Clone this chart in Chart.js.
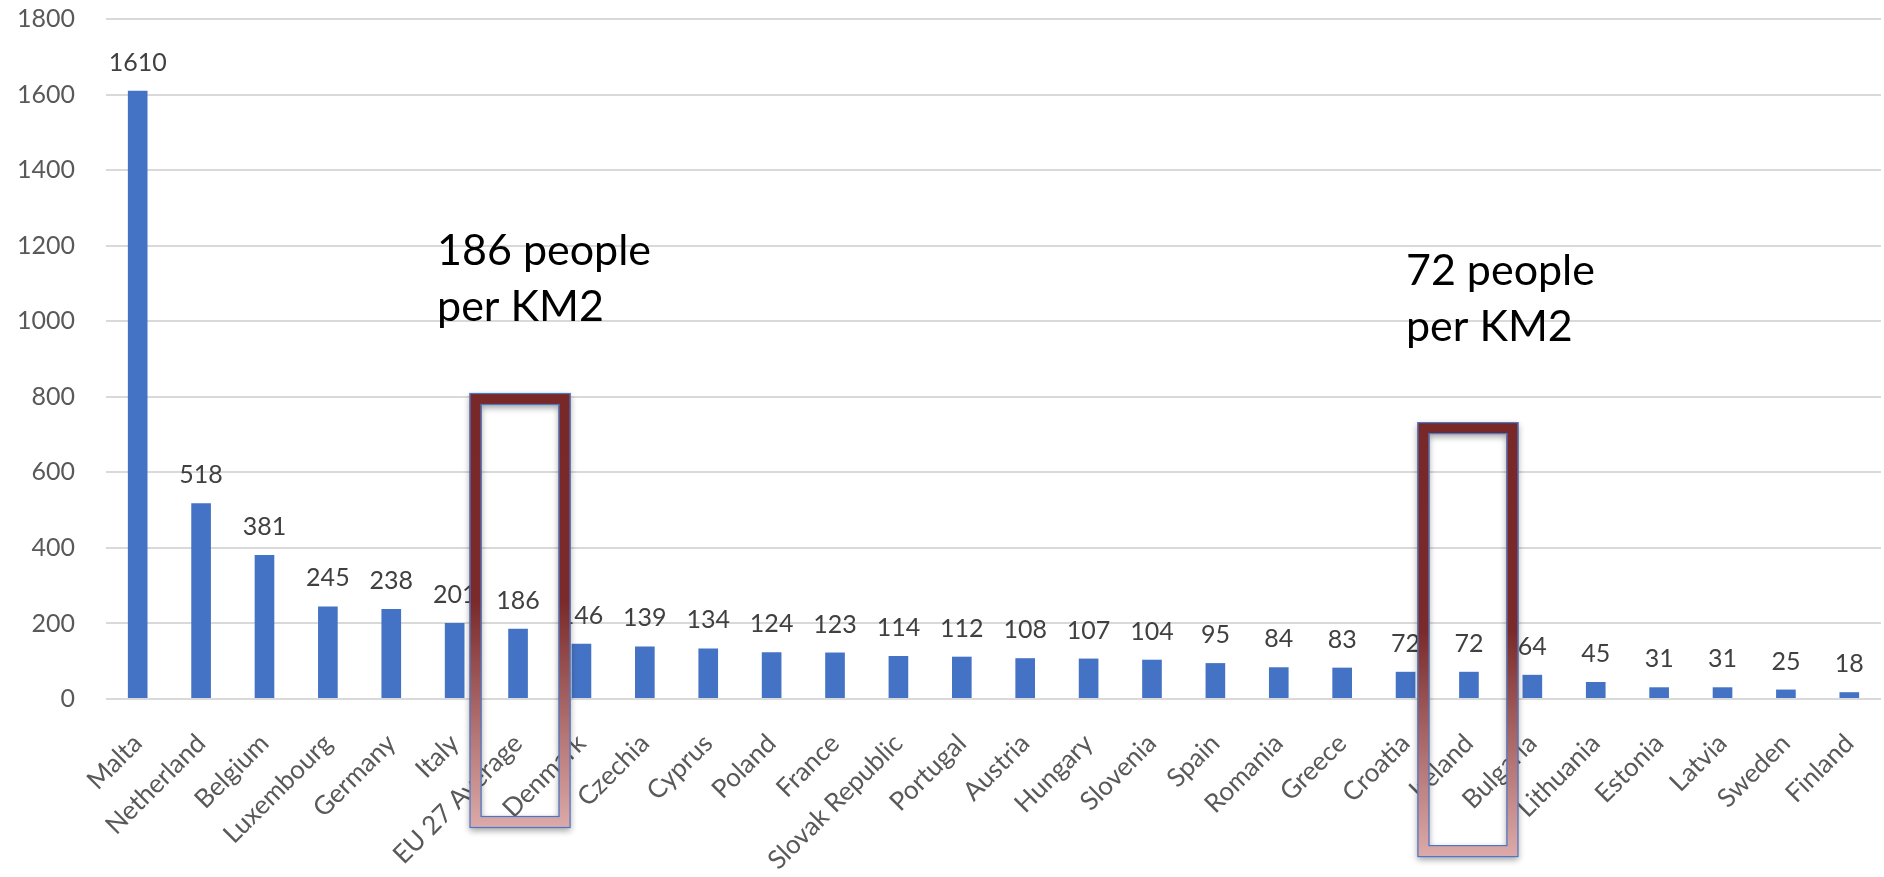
<!DOCTYPE html>
<html>
<head>
<meta charset="utf-8">
<script src="https://cdn.jsdelivr.net/npm/chart.js@4"></script>
<style>
  html, body { margin: 0; padding: 0; background: #ffffff; }
  #wrap { width: 1884px; height: 877px; }
</style>
</head>
<body>
<div id="wrap"><canvas id="c" width="1884" height="877"></canvas></div>
<script>
// ---- data ----
const countries = ['Malta', 'Netherland', 'Belgium', 'Luxembourg', 'Germany', 'Italy', 'EU 27 Average',
  'Denmark', 'Czechia', 'Cyprus', 'Poland', 'France', 'Slovak Republic', 'Portugal', 'Austria',
  'Hungary', 'Slovenia', 'Spain', 'Romania', 'Greece', 'Croatia', 'Ireland', 'Bulgaria',
  'Lithuania', 'Estonia', 'Latvia', 'Sweden', 'Finland'];
const density = [1610, 518, 381, 245, 238, 201, 186, 146, 139, 134, 124, 123, 114, 112, 108,
  107, 104, 95, 84, 83, 72, 72, 64, 45, 31, 31, 25, 18];
const yTicks = [0, 200, 400, 600, 800, 1000, 1200, 1400, 1600, 1800];

// highlighted categories and their notes
const highlightCategories = ['EU 27 Average', 'Ireland'];
const highlightTopValues = [810, 733];
const noteLines = [['186 people', 'per KM2'], ['72 people', 'per KM2']];
const noteBaselineValues = [1149, 1096];

// ---- styles ----
const FONT = 'Lato, "Open Sans", sans-serif';
const boxStyle = { halfWidth: 50.5, height: 435, thickness: 12, xShift: [2, -1] };
const noteStyle = { xOffset: [-81, -63], lineGap: 56, size: 43 };

const valueLabels = {
  id: 'valueLabels',
  afterDatasetsDraw(chart) {
    const ctx = chart.ctx;
    const meta = chart.getDatasetMeta(0);
    ctx.save();
    ctx.font = '25px ' + FONT;
    ctx.fillStyle = '#404040';
    ctx.textAlign = 'center';
    ctx.textBaseline = 'alphabetic';
    meta.data.forEach((bar, i) => {
      ctx.fillText(String(density[i]), bar.x, bar.y - 20);
    });
    ctx.restore();
  }
};

const highlights = {
  id: 'highlights',
  afterDraw(chart) {
    const ctx = chart.ctx;
    const xs = chart.scales.x, ys = chart.scales.y;
    highlightCategories.forEach((cat, k) => {
      const idx = countries.indexOf(cat);
      const cx = xs.getPixelForValue(idx) + boxStyle.xShift[k];
      const top = ys.getPixelForValue(highlightTopValues[k]);
      const left = cx - boxStyle.halfWidth;
      const w = boxStyle.halfWidth * 2;
      const h = boxStyle.height;
      const t = boxStyle.thickness;
      const g = ctx.createLinearGradient(0, top, 0, top + h);
      g.addColorStop(0, '#782828');
      g.addColorStop(0.48, '#7a2a2a');
      g.addColorStop(1, '#dcaaaa');
      ctx.save();
      ctx.shadowColor = 'rgba(0,0,0,0.35)';
      ctx.shadowBlur = 6;
      ctx.shadowOffsetY = 3;
      ctx.beginPath();
      ctx.rect(left, top, w, h);
      ctx.rect(left + w - t, top + t, -(w - 2 * t), h - 2 * t);
      ctx.fillStyle = g;
      ctx.fill('evenodd');
      ctx.restore();
      ctx.save();
      ctx.strokeStyle = '#4a78c8';
      ctx.lineWidth = 1.2;
      ctx.strokeRect(left + 0.5, top + 0.5, w - 1, h - 1);
      ctx.strokeRect(left + t - 0.5, top + t - 0.5, w - 2 * t + 1, h - 2 * t + 1);
      ctx.restore();
      ctx.save();
      ctx.font = noteStyle.size + 'px ' + FONT;
      ctx.fillStyle = '#000000';
      ctx.textAlign = 'left';
      ctx.textBaseline = 'alphabetic';
      const nx = xs.getPixelForValue(idx) + noteStyle.xOffset[k];
      const ny = ys.getPixelForValue(noteBaselineValues[k]);
      noteLines[k].forEach((line, j) => {
        ctx.fillText(line, nx, ny + j * noteStyle.lineGap);
      });
      ctx.restore();
    });
  }
};

function draw() {
  new Chart(document.getElementById('c'), {
    type: 'bar',
    data: {
      labels: countries,
      datasets: [{
        data: density,
        backgroundColor: '#4472C4',
        borderWidth: 0,
        barPercentage: 0.31,
        categoryPercentage: 1.0
      }]
    },
    options: {
      responsive: false,
      animation: false,
      devicePixelRatio: 1,
      layout: { padding: { top: 19, right: 3, left: 0, bottom: 0 } },
      plugins: { legend: { display: false }, tooltip: { enabled: false } },
      scales: {
        x: {
          grid: { display: false, drawTicks: false },
          border: { display: false },
          ticks: {
            autoSkip: false,
            maxRotation: 45,
            minRotation: 45,
            padding: 29,
            labelOffset: 0,
            color: '#595959',
            font: { family: FONT, size: 26 }
          },
          afterFit(s) { s.height = 178; s.paddingLeft = 0; s.paddingRight = 0; }
        },
        y: {
          min: 0,
          max: 1800,
          afterBuildTicks(s) { s.ticks = yTicks.map(v => ({ value: v })); },
          grid: { color: '#d9d9d9', lineWidth: 2, drawTicks: false },
          border: { display: false },
          ticks: {
            padding: 31,
            color: '#595959',
            font: { family: FONT, size: 25 },
            callback: (v) => String(v)
          },
          afterFit(s) { s.width = 106; s.paddingTop = 0; s.paddingBottom = 0; }
        }
      }
    },
    plugins: [valueLabels, highlights]
  });
}

if (document.fonts && document.fonts.load) {
  document.fonts.load('25px Lato').then(draw, draw);
} else {
  draw();
}
</script>
</body>
</html>
